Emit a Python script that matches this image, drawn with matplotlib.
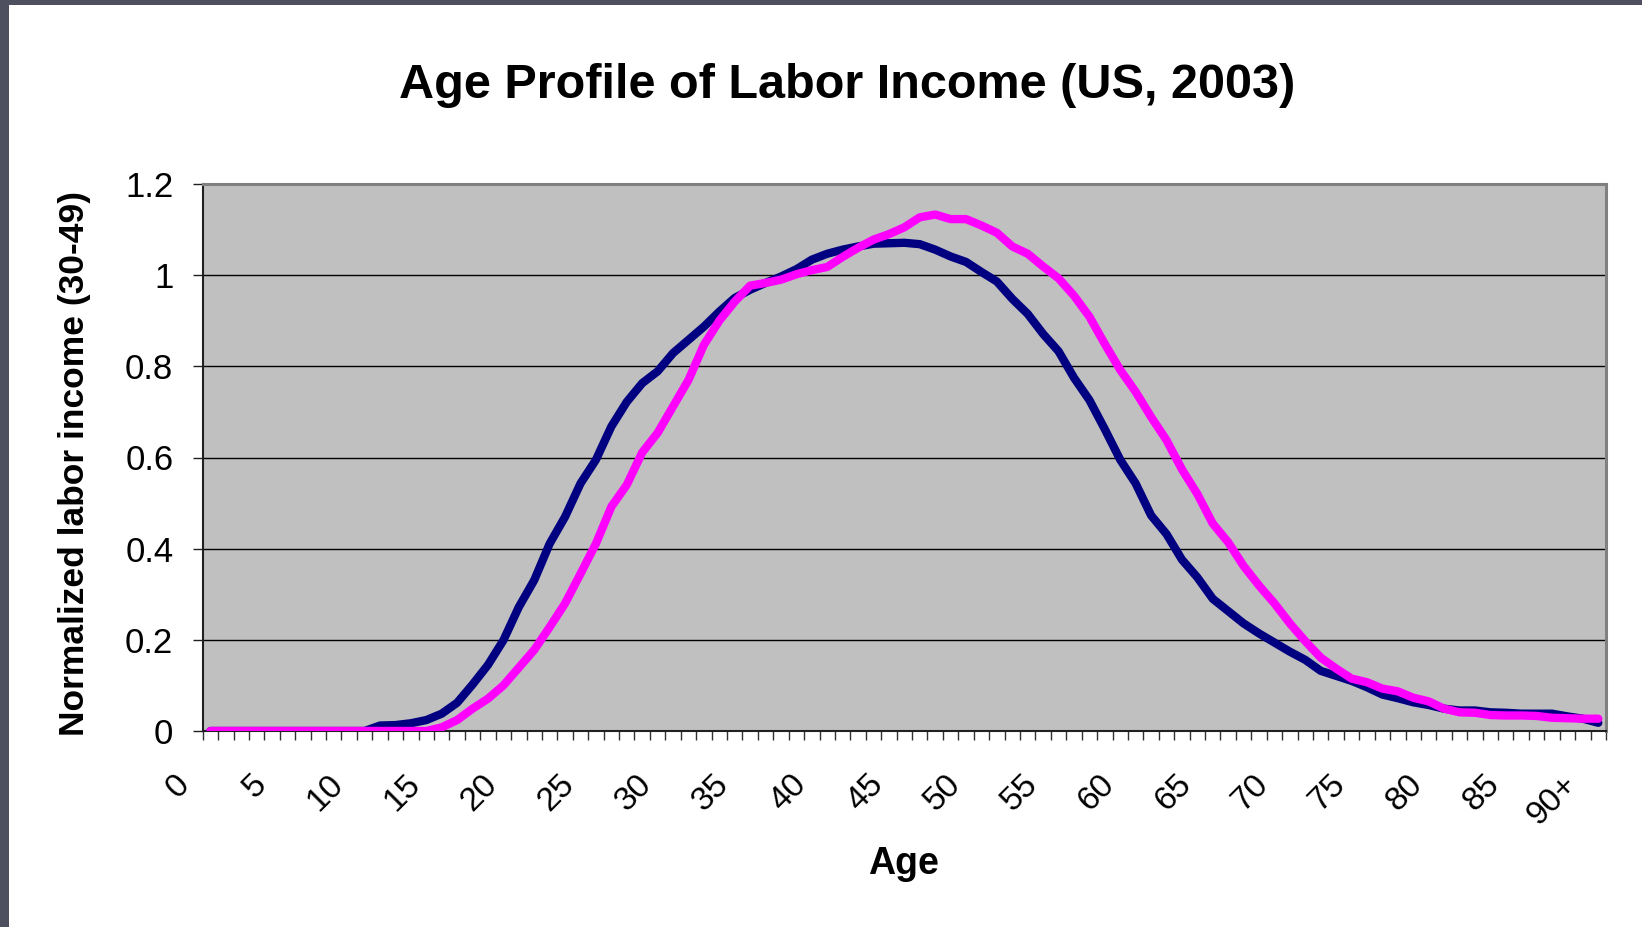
import matplotlib
matplotlib.use("Agg")
import matplotlib.pyplot as plt
import matplotlib.transforms as mtransforms
from matplotlib.patches import Rectangle
import numpy as np

plt.rcParams['font.family'] = ['Liberation Sans', 'DejaVu Sans']

# categories 0 .. 90+, one value per single year of age
ages = list(range(91))
age_labels = [str(a) for a in range(0, 90, 5)] + ['90+']
label_pos = list(range(0, 91, 5))

# navy series
income_navy = [
    0, 0, 0, 0, 0, 0, 0, 0, 0, 0,
    0, 0.012, 0.013, 0.017, 0.024, 0.038, 0.062, 0.102, 0.145, 0.199,
    0.272, 0.331, 0.411, 0.470, 0.543, 0.595, 0.668, 0.722, 0.763, 0.789,
    0.829, 0.858, 0.887, 0.920, 0.950, 0.968, 0.983, 0.997, 1.013, 1.034,
    1.047, 1.056, 1.063, 1.069, 1.070, 1.071, 1.068, 1.056, 1.041, 1.029,
    1.007, 0.986, 0.948, 0.915, 0.871, 0.833, 0.775, 0.726, 0.662, 0.595,
    0.543, 0.473, 0.432, 0.376, 0.337, 0.290, 0.263, 0.236, 0.214, 0.194,
    0.174, 0.156, 0.132, 0.121, 0.110, 0.096, 0.080, 0.072, 0.063, 0.057,
    0.049, 0.045, 0.045, 0.041, 0.040, 0.038, 0.038, 0.038, 0.032, 0.027,
    0.018,
]

# magenta series
income_magenta = [
    0, 0, 0, 0, 0, 0, 0, 0, 0, 0,
    0, 0, 0, 0, 0, 0.008, 0.024, 0.049, 0.071, 0.100,
    0.139, 0.178, 0.228, 0.280, 0.345, 0.411, 0.492, 0.540, 0.611, 0.654,
    0.712, 0.770, 0.847, 0.900, 0.942, 0.977, 0.983, 0.990, 1.002, 1.011,
    1.018, 1.040, 1.060, 1.078, 1.090, 1.105, 1.127, 1.133, 1.123, 1.123,
    1.109, 1.093, 1.063, 1.047, 1.019, 0.993, 0.955, 0.909, 0.849, 0.792,
    0.744, 0.689, 0.638, 0.574, 0.520, 0.455, 0.414, 0.362, 0.319, 0.280,
    0.236, 0.197, 0.161, 0.137, 0.115, 0.107, 0.093, 0.087, 0.073, 0.065,
    0.049, 0.041, 0.040, 0.035, 0.034, 0.034, 0.033, 0.029, 0.028, 0.027,
    0.027,
]

W, H = 1642, 927
fig = plt.figure(figsize=(W / 100, H / 100), dpi=100)
fig.patch.set_facecolor('white')

# dark window frame on the left and top edges
fig.patches.append(Rectangle((0, 0), 9 / W, 1, transform=fig.transFigure,
                             facecolor='#4e505f', edgecolor='none', zorder=0))
fig.patches.append(Rectangle((0, 1 - 5 / H), 1, 5 / H, transform=fig.transFigure,
                             facecolor='#4e505f', edgecolor='none', zorder=0))

left, right = 202.7 / W, 1606 / W
bottom, top = 1 - 731 / H, 1 - 184 / H
ax = fig.add_axes([left, bottom, right - left, top - bottom])
ax.set_facecolor('#c0c0c0')

ax.plot(ages, income_navy, color='#000080', lw=6,
        solid_capstyle='round', solid_joinstyle='round', zorder=3)
ax.plot(ages, income_magenta, color='#ff00ff', lw=6,
        solid_capstyle='round', solid_joinstyle='round', zorder=4)

ax.set_xlim(-0.5, 90.5)
ax.set_ylim(0, 1.2)

# y axis
ax.set_yticks([0, 0.2, 0.4, 0.6, 0.8, 1.0, 1.2])
ax.set_yticklabels(['0', '0.2', '0.4', '0.6', '0.8', '1', '1.2'])
ax.tick_params(axis='y', direction='out', length=7.2, width=1, color='#202020',
               pad=14, labelsize=25)
for yv in [0.2, 0.4, 0.6, 0.8, 1.0]:
    ax.axhline(yv, color='black', lw=1, zorder=1)

# x axis: a tick at each category boundary, labels every 5 years
ax.set_xticks(np.arange(-0.5, 91, 1))
ax.set_xticklabels([])
ax.tick_params(axis='x', direction='out', length=6.5, width=1, color='#303030')

offset = mtransforms.ScaledTranslation(-20 / 100, -55 / 100, fig.dpi_scale_trans)
for pos, lab in zip(label_pos, age_labels):
    ax.text(pos, 0, lab, transform=ax.get_xaxis_transform() + offset,
            rotation=45, rotation_mode='anchor', ha='right', va='baseline',
            fontsize=24, clip_on=False)

for side in ['top', 'right']:
    ax.spines[side].set_color('#808080')
    ax.spines[side].set_linewidth(2.2)
ax.spines['left'].set_color('#202020')
ax.spines['left'].set_linewidth(1.5)
ax.spines['bottom'].set_color('#202020')
ax.spines['bottom'].set_linewidth(1.5)

fig.text(847 / W, 1 - 85 / H, 'Age Profile of Labor Income (US, 2003)',
         ha='center', va='center', fontsize=35, fontweight='bold')
fig.text(75 / W, 1 - 464 / H, 'Normalized labor income (30-49)',
         ha='center', va='center', rotation=90, fontsize=25.5, fontweight='bold')
fig.text(903 / W, 1 - 864 / H, 'Age', ha='center', va='center',
         fontsize=27, fontweight='bold')

fig.savefig('out.png', dpi=100)
